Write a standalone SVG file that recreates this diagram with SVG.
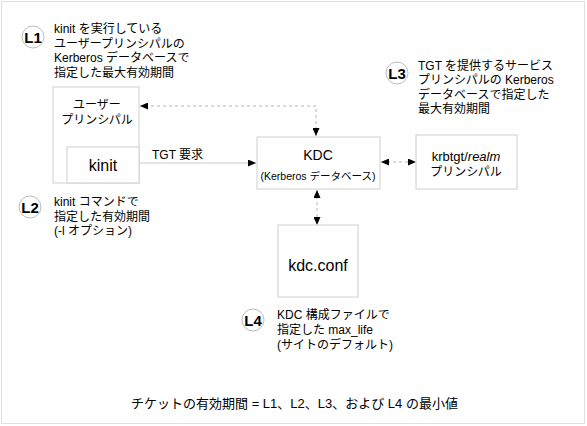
<svg xmlns="http://www.w3.org/2000/svg" width="587" height="426" viewBox="0 0 587 426">
<style>
text { font-family: "Liberation Sans", "Noto Sans CJK JP", sans-serif; fill: #000; }
.box { fill: #fff; stroke: #cfcfcf; stroke-width: 1; }
.circ { fill: #fff; stroke: #bdbdbd; stroke-width: 1; }
.lbl { font-size: 15px; font-weight: bold; text-anchor: middle; }
.note { font-size: 12px; }
.c { text-anchor: middle; }
.dash { fill: none; stroke: #b5b5b5; stroke-width: 1; stroke-dasharray: 3 3; }
.solid { fill: none; stroke: #c8c8c8; stroke-width: 1; }
</style>
<defs>
<marker id="ah" markerUnits="userSpaceOnUse" markerWidth="9" markerHeight="7" refX="8" refY="3.5" orient="auto-start-reverse">
<path d="M0,0 L8,3.5 L0,7 z" fill="#000"/>
</marker>
</defs>
<rect x="1.5" y="1.5" width="583" height="422" fill="#fff" stroke="#e0e0e0"/>

<g id="connectors">
<path class="dash" d="M316,136 V106 H140" marker-start="url(#ah)" marker-end="url(#ah)"/>
<path class="solid" d="M139,163 H256" marker-end="url(#ah)"/>
<path class="dash" d="M381,162 H416" marker-start="url(#ah)" marker-end="url(#ah)"/>
<path class="dash" d="M317,190 V225" marker-start="url(#ah)" marker-end="url(#ah)"/>
<text class="note" x="152" y="159">TGT 要求</text>
</g>

<g id="user-principal">
<rect class="box" x="53" y="87" width="86" height="96"/>
<text class="note c" x="97" y="109">ユーザー</text>
<text class="note c" x="97" y="124">プリンシパル</text>
</g>
<g id="kinit">
<rect class="box" x="67" y="147" width="72" height="36"/>
<text class="c" x="103" y="171" font-size="16">kinit</text>
</g>
<g id="kdc">
<rect class="box" x="257" y="137" width="123" height="52"/>
<text class="c" x="318" y="160" font-size="14">KDC</text>
<text class="c" x="318" y="180" font-size="10.5">(Kerberos データベース)</text>
</g>
<g id="krbtgt">
<rect class="box" x="416" y="135" width="101" height="54"/>
<text class="c" x="466" y="161" font-size="13">krbtgt/<tspan font-style="italic">realm</tspan></text>
<text class="note c" x="466" y="176">プリンシパル</text>
</g>
<g id="kdcconf">
<rect class="box" x="278" y="225" width="80" height="72"/>
<text class="c" x="318" y="271" font-size="16">kdc.conf</text>
</g>

<g id="L1">
<circle class="circ" cx="33" cy="37" r="11"/>
<text class="lbl" x="33" y="42.5">L1</text>
<text class="note" x="54" y="33">kinit を実行している</text>
<text class="note" x="54" y="47.5">ユーザープリンシパルの</text>
<text class="note" x="54" y="62">Kerberos データベースで</text>
<text class="note" x="54" y="76.5">指定した最大有効期間</text>
</g>
<g id="L2">
<circle class="circ" cx="30" cy="207" r="11"/>
<text class="lbl" x="30" y="212.5">L2</text>
<text class="note" x="54" y="206">kinit コマンドで</text>
<text class="note" x="54" y="220.5">指定した有効期間</text>
<text class="note" x="54" y="235">(-l オプション)</text>
</g>
<g id="L3">
<circle class="circ" cx="397" cy="73" r="11"/>
<text class="lbl" x="397" y="78.5">L3</text>
<text class="note" x="418" y="69.5">TGT を提供するサービス</text>
<text class="note" x="418" y="84">プリンシパルの Kerberos</text>
<text class="note" x="418" y="98.5">データベースで指定した</text>
<text class="note" x="418" y="113">最大有効期間</text>
</g>
<g id="L4">
<circle class="circ" cx="253" cy="320" r="11"/>
<text class="lbl" x="253" y="325.5">L4</text>
<text class="note" x="277" y="319">KDC 構成ファイルで</text>
<text class="note" x="277" y="334">指定した max_life</text>
<text class="note" x="277" y="348.5">(サイトのデフォルト)</text>
</g>
<g id="summary">
<text class="c" x="294.5" y="408" font-size="13">チケットの有効期間 = L1、L2、L3、および L4 の最小値</text>
</g>
</svg>
